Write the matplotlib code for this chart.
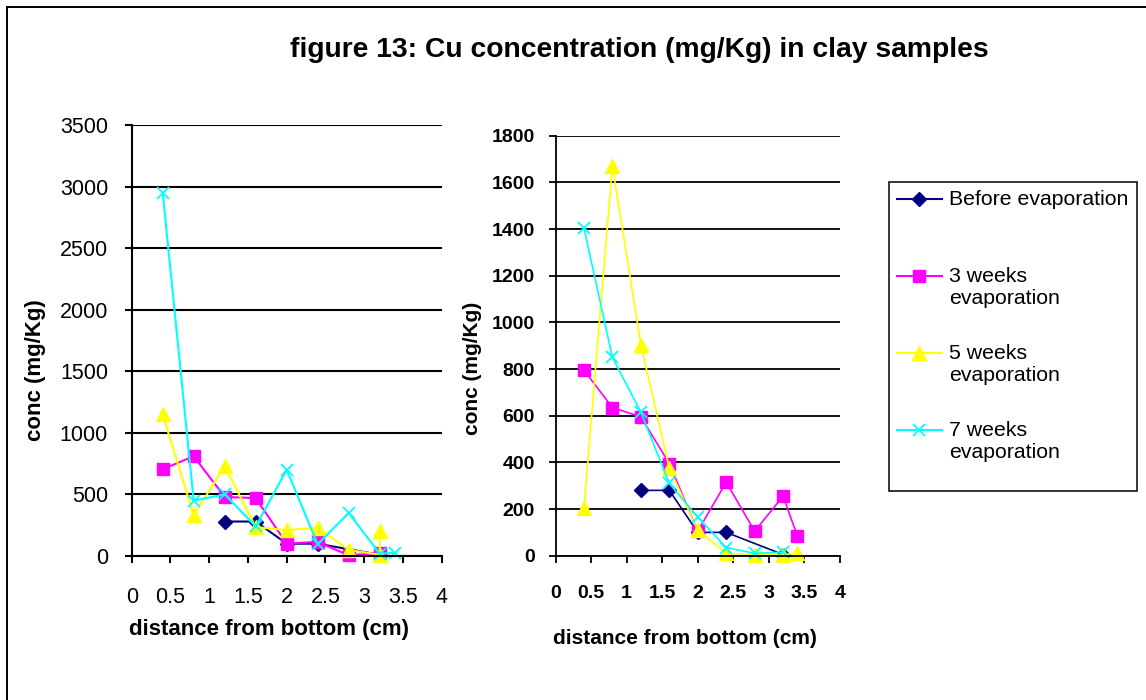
import matplotlib
matplotlib.use("Agg")
import matplotlib.pyplot as plt
from matplotlib.lines import Line2D
from matplotlib.patches import Rectangle

plt.rcParams['font.family'] = ['Liberation Sans', 'DejaVu Sans']

# Cu concentration (mg/Kg) vs distance from bottom (cm), two clay sample sets
series_names = ["Before evaporation", "3 weeks\nevaporation",
                "5 weeks\nevaporation", "7 weeks\nevaporation"]
colors = ["#000080", "#FF00FF", "#FFFF00", "#00FFFF"]

# left panel
dist_before_a = [1.2, 1.6, 2.0, 2.4, 3.2]
cu_before_a = [280, 280, 100, 100, 10]
dist_3w_a = [0.4, 0.8, 1.2, 1.6, 2.0, 2.4, 2.8, 3.2]
cu_3w_a = [705, 810, 480, 470, 100, 115, 5, 25]
dist_5w_a = [0.4, 0.8, 1.2, 1.6, 2.0, 2.4, 2.8, 3.2, 3.2]
cu_5w_a = [1150, 330, 730, 235, 210, 230, 50, 10, 200]
dist_7w_a = [0.4, 0.8, 1.2, 1.6, 2.0, 2.4, 2.8, 3.2, 3.4]
cu_7w_a = [2950, 450, 500, 240, 700, 95, 350, 20, 25]

# right panel
dist_before_b = [1.2, 1.6, 2.0, 2.4, 3.2]
cu_before_b = [280, 280, 100, 100, 5]
dist_3w_b = [0.4, 0.8, 1.2, 1.6, 2.0, 2.4, 2.8, 3.2, 3.4]
cu_3w_b = [795, 635, 595, 395, 105, 315, 105, 255, 85]
dist_5w_b = [0.4, 0.8, 1.2, 1.6, 2.0, 2.4, 2.8, 3.2, 3.4]
cu_5w_b = [205, 1670, 905, 375, 110, 10, 5, 5, 10]
dist_7w_b = [0.4, 0.8, 1.2, 1.6, 2.0, 2.4, 2.8, 3.2]
cu_7w_b = [1405, 850, 615, 310, 165, 35, 10, 15]

x_ticks = [0, 0.5, 1, 1.5, 2, 2.5, 3, 3.5, 4]
x_ticklabels = ["0", "0.5", "1", "1.5", "2", "2.5", "3", "3.5", "4"]
y_ticks_a = [0, 500, 1000, 1500, 2000, 2500, 3000, 3500]
y_ticks_b = [0, 200, 400, 600, 800, 1000, 1200, 1400, 1600, 1800]

marker_styles = [
    dict(marker="D", markersize=7),
    dict(marker="s", markersize=9),
    dict(marker="^", markersize=10.5),
    dict(marker="x", markersize=9, markeredgewidth=1.3),
]

W, H = 1146, 700
fig = plt.figure(figsize=(W / 100, H / 100), dpi=100)


def px(x, y):
    return x / W, 1 - y / H


def style_axes(ax, yticks, ymax, tick_size, tick_weight, ypad, xpad, lw):
    ax.set_xlim(0, 4)
    ax.set_ylim(0, ymax)
    ax.set_xticks(x_ticks)
    ax.set_xticklabels(x_ticklabels)
    ax.set_yticks(yticks)
    ax.set_yticklabels([str(v) for v in yticks])
    for s in ["top", "right"]:
        ax.spines[s].set_visible(False)
    ax.spines["left"].set_linewidth(lw)
    ax.spines["bottom"].set_linewidth(lw)
    ax.yaxis.grid(True, color="black", linewidth=lw)
    ax.set_axisbelow(True)
    ax.tick_params(axis="y", direction="out", length=5, width=lw, pad=ypad,
                   labelsize=tick_size)
    ax.tick_params(axis="x", direction="out", length=5, width=lw, pad=xpad,
                   labelsize=tick_size)
    for lab in ax.get_xticklabels() + ax.get_yticklabels():
        lab.set_fontweight(tick_weight)


ax1 = fig.add_axes([131.7 / W, 144 / H, 310 / W, 431 / H])
panel_a = [(dist_before_a, cu_before_a), (dist_3w_a, cu_3w_a),
           (dist_5w_a, cu_5w_a), (dist_7w_a, cu_7w_a)]
for (xs, ys), c, ms in zip(panel_a, colors, marker_styles):
    ax1.plot(xs, ys, color=c, linewidth=1.5, markerfacecolor=c,
             markeredgecolor=c, clip_on=False, **ms)
style_axes(ax1, y_ticks_a, 3500, 15.5, "normal", 12, 17, 1.5)

ax2 = fig.add_axes([555.5 / W, 144.3 / H, 284.5 / W, 420 / H])
panel_b = [(dist_before_b, cu_before_b), (dist_3w_b, cu_3w_b),
           (dist_5w_b, cu_5w_b), (dist_7w_b, cu_7w_b)]
for (xs, ys), c, ms in zip(panel_b, colors, marker_styles):
    ax2.plot(xs, ys, color=c, linewidth=1.2, markerfacecolor=c,
             markeredgecolor=c, clip_on=False, **ms)
style_axes(ax2, y_ticks_b, 1800, 14, "bold", 10, 16, 1.3)

# axis labels and title
fig.text(*px(639, 50), "figure 13: Cu concentration (mg/Kg) in clay samples",
         ha="center", va="center", fontsize=20.3, fontweight="bold")
fig.text(*px(35, 370), "conc (mg/Kg)", rotation=90, ha="center", va="center",
         fontsize=16, fontweight="bold")
fig.text(*px(269, 630), "distance from bottom (cm)", ha="center", va="center",
         fontsize=16, fontweight="bold")
fig.text(*px(473, 368), "conc (mg/Kg)", rotation=90, ha="center", va="center",
         fontsize=15, fontweight="bold")
fig.text(*px(685, 638), "distance from bottom (cm)", ha="center", va="center",
         fontsize=15, fontweight="bold")

# legend box drawn by hand so the marker sits beside the first text line
x0, y0 = px(889, 491)
x1, y1 = px(1137, 182)
fig.add_artist(Rectangle((x0, y0), x1 - x0, y1 - y0, transform=fig.transFigure,
                         facecolor="white", edgecolor="black", linewidth=1.1))
legend_rows = [199, 276, 353, 430]
for name, c, ms, yrow in zip(series_names, colors, marker_styles, legend_rows):
    lx0, ly = px(897, yrow)
    lx1, _ = px(942, yrow)
    fig.add_artist(Line2D([lx0, lx1], [ly, ly], color=c, linewidth=1.5,
                          transform=fig.transFigure))
    fig.add_artist(Line2D([(lx0 + lx1) / 2], [ly], color=c, markerfacecolor=c,
                          markeredgecolor=c, transform=fig.transFigure, **ms))
    tx, ty = px(949, yrow - 9)
    fig.text(tx, ty, name, ha="left", va="top", fontsize=15.3, linespacing=1.2)

# outer frame (top and left edges)
fig.add_artist(Line2D([7 / W, 7 / W], [0, 1 - 7 / H], color="black",
                      linewidth=1.4, transform=fig.transFigure))
fig.add_artist(Line2D([7 / W, 1], [1 - 7 / H, 1 - 7 / H], color="black",
                      linewidth=1.4, transform=fig.transFigure))

fig.savefig("out.png", dpi=100, facecolor="white")
